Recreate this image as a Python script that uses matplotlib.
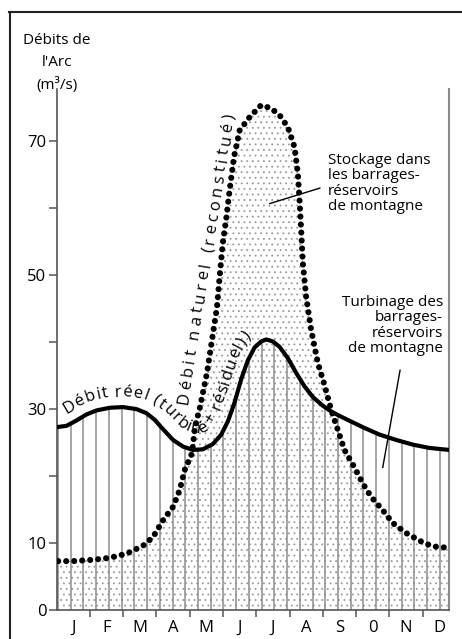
import matplotlib
matplotlib.use('Agg')
import matplotlib.pyplot as plt
import numpy as np
from matplotlib.font_manager import FontProperties
from matplotlib.lines import Line2D

FONT = 'Open Sans'
plt.rcParams['font.family'] = FONT
plt.rcParams['hatch.color'] = '#9a9a9a'
plt.rcParams['hatch.linewidth'] = 0.6

# position in months (0 = 1st of January) and flow in m3/s
real_month = [0.0, 0.3, 0.6, 0.9, 1.2, 1.6, 2.0, 2.4, 2.7, 2.95, 3.2, 3.5,
              3.8, 4.1, 4.4, 4.7, 4.95, 5.15, 5.35, 5.55, 5.75, 5.95, 6.15,
              6.3, 6.5, 6.7, 6.95, 7.2, 7.45, 7.7, 8.0, 8.3, 8.7, 9.2, 9.7,
              10.2, 10.7, 11.2, 11.8]
real_flow = [27.3, 27.5, 28.3, 29.2, 29.8, 30.2, 30.3, 30.0, 29.4, 28.4,
             27.0, 25.4, 24.4, 23.9, 24.0, 24.8, 26.2, 28.2, 31.0, 34.5,
             37.3, 39.2, 40.1, 40.4, 40.1, 39.3, 37.6, 35.4, 33.4, 31.8,
             30.5, 29.5, 28.5, 27.3, 26.2, 25.4, 24.7, 24.2, 23.9]

nat_month = [0.05, 0.5, 1.1, 1.6, 2.1, 2.6, 2.9, 3.2, 3.5, 3.7, 3.85, 4.07,
             4.16, 4.31, 4.52, 4.67, 4.82, 4.91, 5.0, 5.1, 5.2, 5.33, 5.5,
             5.8, 6.15, 6.45, 6.7, 6.95, 7.15, 7.25, 7.3, 7.35, 7.4, 7.5,
             7.65, 7.85, 8.05, 8.25, 8.45, 8.65, 8.95, 9.2, 9.45, 9.8, 10.1,
             10.5, 11.0, 11.3, 11.75]
nat_flow = [7.3, 7.3, 7.5, 7.8, 8.4, 9.6, 10.9, 13.4, 15.4, 17.9, 20.9, 23.4,
            27.3, 30.3, 35.4, 40.3, 45.2, 50.3, 55.0, 58.5, 62.7, 67.6, 71.6,
            73.6, 75.4, 74.9, 73.9, 72.1, 69.1, 65.2, 61.2, 56.7, 51.8, 46.7,
            41.8, 36.9, 33.6, 29.9, 26.9, 23.9, 21.3, 18.9, 16.9, 14.9, 13.0,
            11.5, 10.1, 9.5, 9.3]

months = ['J', 'F', 'M', 'A', 'M', 'J', 'J', 'A', 'S', '0', 'N', 'D']
yticks = [0, 10, 20, 30, 40, 50, 60, 70]
ylabels = ['0', '10', '', '30', '', '50', '', '70']

W, H = 462, 639
fig = plt.figure(figsize=(W / 100, H / 100), dpi=100)
ax = fig.add_axes([56.5 / W, 29 / H, (449 - 56.5) / W, (610 - 89) / H])
ax.set_xlim(0, 11.79)
ax.set_ylim(0, 77.8)


def curved_text(ax, xs, ys, text, shift, m0, m1, size):
    """place text letter by letter along a (shifted) curve given in data"""
    renderer = ax.figure.canvas.get_renderer()
    pts = ax.transData.transform(np.column_stack([xs, ys]))
    d = np.diff(pts, axis=0)
    nrm = np.column_stack([-d[:, 1], d[:, 0]])
    nrm /= np.hypot(nrm[:, 0], nrm[:, 1])[:, None]
    vn = np.vstack([nrm[:1], (nrm[:-1] + nrm[1:]) / 2, nrm[-1:]])
    vn /= np.hypot(vn[:, 0], vn[:, 1])[:, None]
    base = pts + vn * np.reshape(shift, (-1, 1))
    arc = np.concatenate([[0], np.cumsum(np.hypot(*np.diff(base, axis=0).T))])
    prop = FontProperties(family=FONT, size=size)
    widths = []
    for ch in text:
        if ch == ' ':
            widths.append(size * 0.3)
        else:
            w, h, dsc = renderer.get_text_width_height_descent(ch, prop, ismath=False)
            widths.append(w)
    widths = np.array(widths)
    xa = ax.transData.transform((m0, 0))[0]
    xb = ax.transData.transform((m1, 0))[0]
    sa = np.interp(xa, base[:, 0], arc)
    sb = np.interp(xb, base[:, 0], arc)
    gap = (sb - sa - widths.sum()) / (len(text) - 1)
    pos = sa
    inv = ax.transData.inverted()
    for ch, w in zip(text, widths):
        c = pos + w / 2
        px = np.interp(c, arc, base[:, 0])
        py = np.interp(c, arc, base[:, 1])
        e = max(w / 2, 4)
        dx = np.interp(c + e, arc, base[:, 0]) - np.interp(c - e, arc, base[:, 0])
        dy = np.interp(c + e, arc, base[:, 1]) - np.interp(c - e, arc, base[:, 1])
        ang = np.degrees(np.arctan2(dy, dx))
        tx, ty = inv.transform((px, py))
        ax.text(tx, ty, ch, rotation=ang, rotation_mode='anchor', ha='center',
                va='baseline', fontsize=size, family=FONT, zorder=6)
        pos += w + gap


# stippled area under the natural flow
ax.fill_between(nat_month, 0, nat_flow, facecolor='none', edgecolor='#9a9a9a',
                linewidth=0, hatch='...', zorder=1)

# vertical hatching under the real flow
real_area = ax.fill_between(real_month, 0, real_flow, facecolor='none',
                            edgecolor='none', linewidth=0)
vl = ax.vlines(np.arange(0.045, 11.79, 0.3823), 0, 77.8, color='#8c8c8c',
               linewidth=1.1, zorder=2)
vl.set_clip_path(real_area.get_paths()[0], ax.transData)

ax.plot(nat_month, nat_flow, color='black', linewidth=4.4,
        linestyle=(0, (0.01, 1.3)), dash_capstyle='round', zorder=4)
ax.plot(real_month, real_flow, color='black', linewidth=3.0,
        solid_capstyle='round', zorder=5)

# gap (px) between the real-flow line and the baseline of its label
label_gap = np.interp(real_month, [0, 2.0, 3.2, 4.1, 4.8, 5.5, 6.0],
                      [10.5, 11, 13, 17, 14, 10, 10])
curved_text(ax, real_month, real_flow, 'Débit réel (turbiné + résiduel))',
            label_gap, 0.3, 5.85, 12)
curved_text(ax, [3.93, 5.34], [30.6, 73.9], 'Débit naturel (reconstitué)',
            0, 3.93, 5.34, 12)

ax.text(8.15, 63.7, 'Stockage dans\nles barrages-\nréservoirs\nde montagne',
        ha='left', va='center', fontsize=11, linespacing=1.05)
ax.plot([6.41, 7.91], [60.7, 63.0], color='black', linewidth=1)
ax.text(11.61, 42.5, 'Turbinage des\nbarrages-\nréservoirs\nde montagne',
        ha='right', va='center', fontsize=11, linespacing=1.05,
        multialignment='right')
ax.plot([10.32, 9.8], [35.8, 21.3], color='black', linewidth=1)

for side in ['left', 'bottom']:
    ax.spines[side].set_color('#555555')
    ax.spines[side].set_linewidth(1.2)
ax.spines['right'].set_color('#8a8a8a')
ax.spines['right'].set_linewidth(1.5)
ax.spines['top'].set_visible(False)

ax.set_yticks(yticks)
ax.set_yticklabels(ylabels)
ax.tick_params(axis='y', length=5.8, width=1.1, color='#555555', pad=1.5,
               labelsize=12)
ax.set_xticks(np.arange(1, 12))
ax.set_xticklabels([])
ax.set_xticks(np.arange(12) + 0.5, minor=True)
ax.set_xticklabels(months, minor=True)
ax.tick_params(axis='x', which='major', length=5, width=1.1, color='#555555')
ax.tick_params(axis='x', which='minor', length=0, pad=7, labelsize=12)

fig.text(57 / W, 1 - 63 / H, "Débits de\nl'Arc\n(m³/s)", ha='center',
         va='center', fontsize=11, linespacing=1.6)

# frame around the figure
fig.add_artist(Line2D([9 / W, 1], [1 - 12 / H, 1 - 12 / H], color='#222222',
                      linewidth=1.5))
fig.add_artist(Line2D([10 / W, 10 / W], [0, 1 - 12 / H], color='#222222',
                      linewidth=1.5))

fig.savefig('out.png', dpi=100)
